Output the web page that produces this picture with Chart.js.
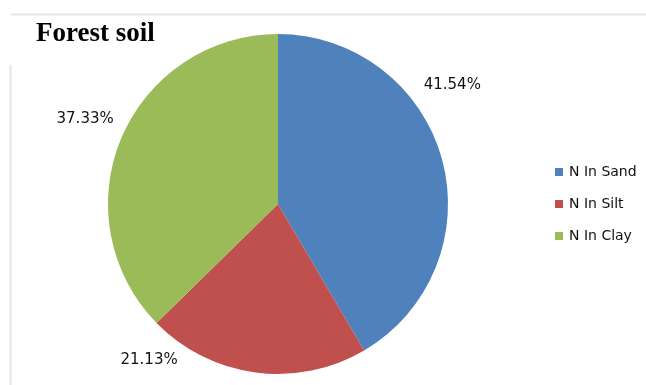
<!DOCTYPE html>
<html>
<head>
<meta charset="utf-8">
<script src="https://cdn.jsdelivr.net/npm/chart.js@4"></script>
<style>
  html, body { margin: 0; padding: 0; background: #fff; }
  #wrap { width: 646px; height: 385px; }
</style>
</head>
<body>
<div id="wrap"><canvas id="soilChart" width="646" height="385"></canvas></div>
<script>
// Nitrogen share per soil fraction (%)
const fractions = ["N In Sand", "N In Silt", "N In Clay"];
const nShare = [41.54, 21.13, 37.33];
const sliceColors = ["#4F81BD", "#C0504D", "#9BBB59"];
const chartTitle = "Forest soil";

// label placement relative to the slice middle: angle shift (deg), radius factor
const labelShift = [-19, 32, 1];
const labelDist = [1.24, 1.19, 1.24];

const framePlugin = {
    id: 'frame',
    beforeDraw(chart) {
        const c = chart.ctx;
        c.save();
        c.strokeStyle = '#e6e6e6';
        c.lineWidth = 2;
        c.beginPath();
        c.moveTo(11, 14.5);
        c.lineTo(646, 14.5);
        c.moveTo(10.5, 65);
        c.lineTo(10.5, 385);
        c.stroke();
        c.restore();
    },
    afterDraw(chart) {
        const c = chart.ctx;
        c.save();
        // title
        c.fillStyle = '#000';
        c.font = 'bold 27px "Liberation Serif", "Times New Roman", serif';
        c.textBaseline = 'alphabetic';
        c.textAlign = 'left';
        c.fillText(chartTitle, 36, 41);

        // percentage labels outside the slices
        const arcs = chart.getDatasetMeta(0).data;
        c.font = '15px "DejaVu Sans", sans-serif';
        c.textAlign = 'center';
        c.textBaseline = 'middle';
        c.fillStyle = '#111';
        arcs.forEach((arc, i) => {
            const p = arc.getProps(['x', 'y', 'startAngle', 'endAngle', 'outerRadius'], true);
            const mid = (p.startAngle + p.endAngle) / 2 + labelShift[i] * Math.PI / 180;
            const r = p.outerRadius * labelDist[i];
            c.fillText(nShare[i].toFixed(2) + '%', p.x + Math.cos(mid) * r, p.y + Math.sin(mid) * r);
        });

        // legend
        c.font = '14px "DejaVu Sans", sans-serif';
        c.textAlign = 'left';
        fractions.forEach((name, i) => {
            const y = 172 + i * 32;
            c.fillStyle = sliceColors[i];
            c.fillRect(555, y - 4, 8, 8);
            c.fillStyle = '#111';
            c.fillText(name, 569, y);
        });
        c.restore();
    }
};

const ctx = document.getElementById('soilChart').getContext('2d');
new Chart(ctx, {
    type: 'pie',
    data: {
        labels: fractions,
        datasets: [{
            data: nShare,
            backgroundColor: sliceColors,
            borderWidth: 0
        }]
    },
    options: {
        responsive: false,
        animation: false,
        layout: { padding: { left: 108, right: 198, top: 34, bottom: 11 } },
        plugins: {
            legend: { display: false },
            tooltip: { enabled: false }
        }
    },
    plugins: [framePlugin]
});
</script>
</body>
</html>
